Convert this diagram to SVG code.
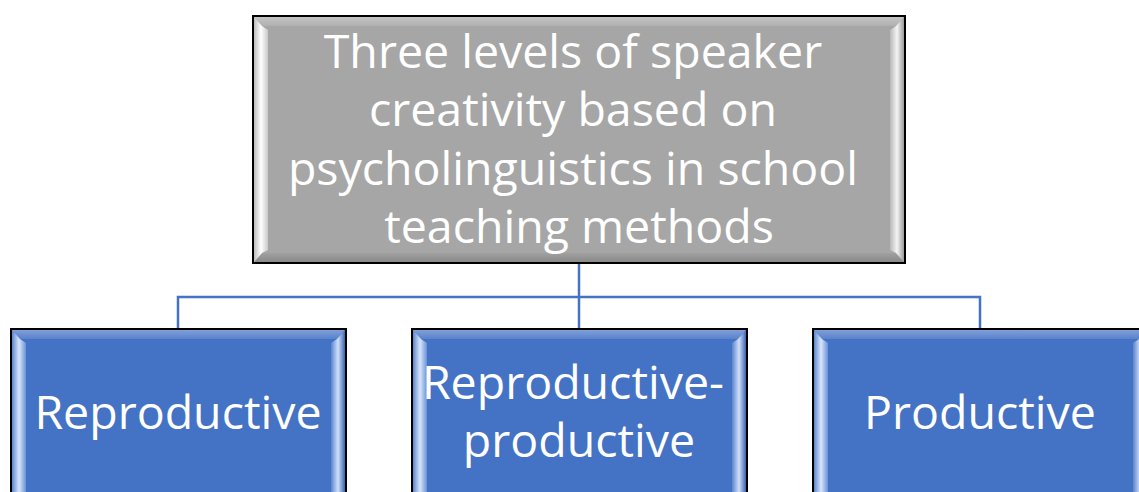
<svg xmlns="http://www.w3.org/2000/svg" width="1139" height="492" viewBox="0 0 1139 492">
  <defs>
    <style>
      .frame { stroke: #000; stroke-width: 2; }
      .grey { fill: #A6A6A6; }
      .blue { fill: #4472C4; }
      .label { font-family: "Open Sans", "Noto Sans", sans-serif; fill: #fff; text-anchor: middle; }
      .link { fill: none; stroke: #4472C4; stroke-width: 2.5; }
    </style>
    <!-- bevel strips for the grey box -->
    <linearGradient id="gL" x1="0" y1="0" x2="1" y2="0">
      <stop offset="0" stop-color="#bdbdbd"/>
      <stop offset="0.5" stop-color="#ffffff"/>
      <stop offset="1" stop-color="#c8c8c8"/>
    </linearGradient>
    <linearGradient id="gT" x1="0" y1="0" x2="0" y2="1">
      <stop offset="0" stop-color="#c4c4c4"/>
      <stop offset="1" stop-color="#b0b0b0"/>
    </linearGradient>
    <linearGradient id="gR" x1="1" y1="0" x2="0" y2="0">
      <stop offset="0" stop-color="#9a9a9a"/>
      <stop offset="0.5" stop-color="#f4f4f4"/>
      <stop offset="1" stop-color="#b8b8b8"/>
    </linearGradient>
    <linearGradient id="gB" x1="0" y1="1" x2="0" y2="0">
      <stop offset="0" stop-color="#8a8a8a"/>
      <stop offset="1" stop-color="#a0a0a0"/>
    </linearGradient>
    <!-- bevel strips for the blue boxes -->
    <linearGradient id="bL" x1="0" y1="0" x2="1" y2="0">
      <stop offset="0" stop-color="#5c86d0"/>
      <stop offset="0.5" stop-color="#d8e6fb"/>
      <stop offset="1" stop-color="#6a92d6"/>
    </linearGradient>
    <linearGradient id="bT" x1="0" y1="0" x2="0" y2="1">
      <stop offset="0" stop-color="#7f9fd8"/>
      <stop offset="1" stop-color="#5a82cc"/>
    </linearGradient>
    <linearGradient id="bR" x1="1" y1="0" x2="0" y2="0">
      <stop offset="0" stop-color="#3a64b0"/>
      <stop offset="0.5" stop-color="#cfe0fa"/>
      <stop offset="1" stop-color="#5a84cf"/>
    </linearGradient>
  </defs>

  <!-- connectors -->
  <g id="connectors">
    <path class="link" d="M579,263 V329"/>
    <path class="link" d="M178,329 V297 H980 V329"/>
  </g>

  <!-- root node -->
  <g id="root">
    <rect class="grey frame" x="253" y="16" width="652" height="247"/>
    <polygon fill="url(#gT)" points="254,17 904,17 896,26 262,26"/>
    <polygon fill="url(#gB)" points="254,262 904,262 896,253 262,253"/>
    <polygon fill="url(#gL)" points="254,17 262,26 268,30 268,250 262,253 254,262"/>
    <polygon fill="url(#gR)" points="904,17 896,26 890,30 890,250 896,253 904,262"/>
    <text class="label" font-size="46.5">
      <tspan x="579" y="68">Three levels of speaker</tspan>
      <tspan x="579" y="126">creativity based on</tspan>
      <tspan x="579" y="185">psycholinguistics in school</tspan>
      <tspan x="579" y="243">teaching methods</tspan>
    </text>
  </g>

  <!-- child nodes -->
  <g id="reproductive">
    <rect class="blue frame" x="11" y="329" width="335" height="180"/>
    <polygon fill="url(#bT)" points="12,330 345,330 337,339 20,339"/>
    <polygon fill="url(#bL)" points="12,330 20,339 26,343 26,500 12,500"/>
    <polygon fill="url(#bR)" points="345,330 337,339 331,343 331,500 345,500"/>
    <text class="label" font-size="46.5" x="178" y="429">Reproductive</text>
  </g>

  <g id="reproductive-productive">
    <rect class="blue frame" x="412" y="329" width="335" height="180"/>
    <polygon fill="url(#bT)" points="413,330 746,330 738,339 421,339"/>
    <polygon fill="url(#bL)" points="413,330 421,339 427,343 427,500 413,500"/>
    <polygon fill="url(#bR)" points="746,330 738,339 732,343 732,500 746,500"/>
    <text class="label" font-size="46.5">
      <tspan x="579" y="399">Reproductive-</tspan>
      <tspan x="579" y="457">productive</tspan>
    </text>
  </g>

  <g id="productive">
    <rect class="blue frame" x="813" y="329" width="335" height="180"/>
    <polygon fill="url(#bT)" points="814,330 1147,330 1139,339 822,339"/>
    <polygon fill="url(#bL)" points="814,330 822,339 828,343 828,500 814,500"/>
    <polygon fill="url(#bR)" points="1147,330 1139,339 1133,343 1133,500 1147,500"/>
    <text class="label" font-size="46.5" x="980" y="429">Productive</text>
  </g>
</svg>
